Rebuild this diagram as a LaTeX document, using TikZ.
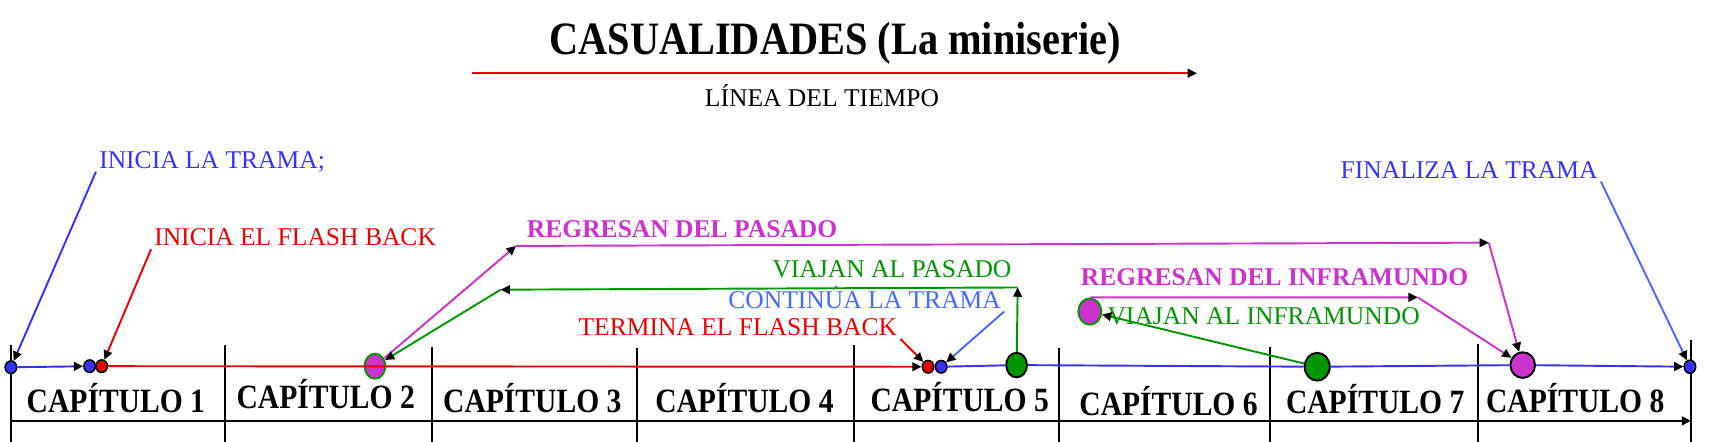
\documentclass[tikz,border=0pt]{standalone}
\usepackage{fontspec}
\setmainfont{Liberation Serif}
\usetikzlibrary{arrows.meta,shapes.geometric}
\definecolor{trama}{RGB}{51,51,255}
\definecolor{tramaline}{RGB}{70,105,255}
\definecolor{flash}{RGB}{235,0,0}
\definecolor{pasado}{RGB}{204,51,204}
\definecolor{viaje}{RGB}{0,150,0}
\newcommand\tall[1]{\scalebox{1}[1.15]{#1}}
\tikzset{
  >={Triangle[color=black,length=1.7mm,width=1.6mm]},
  link/.style={->,line width=1pt,draw=#1},
  link/.default=black,
  rule/.style={line width=1.1pt,draw=black},
  tag/.style={text=#1,font=\fontsize{13.3pt}{16pt}\selectfont,inner sep=1.5pt,
    text height=1.5ex,text depth=0pt},
  tag/.default=black,
  btag/.style={tag=#1,font=\fontsize{13.3pt}{16pt}\selectfont\bfseries},
  heading/.style={font=\fontsize{21pt}{25pt}\selectfont\bfseries,anchor=base,inner sep=0pt},
  chap/.style={font=\fontsize{15.4pt}{18pt}\selectfont\bfseries,anchor=base,inner sep=0pt},
  beat/.style={ellipse,draw=black,line width=0.8pt,fill=#1,minimum width=2.1mm,
    minimum height=2.3mm,inner sep=0pt},
  event/.style={ellipse,draw=#1,line width=1pt,minimum width=4.2mm,
    minimum height=4.8mm,inner sep=0pt},
}

\begin{document}
\begin{tikzpicture}[x=0.02cm,y=-0.02cm]
  \useasboundingbox (0,0) rectangle (1568,404);
  % title
  \node[heading] (titulo) at (764,50) {\tall{CASUALIDADES (La miniserie)}};
  \coordinate (tiempoA) at (432,67);
  \coordinate (tiempoB) at (1095,67);
  \draw[link=flash] (tiempoA) -- (tiempoB);
  \node[tag] (tiempo) at (752,91) {LÍNEA DEL TIEMPO};

  % chapter table
  \foreach \x/\t in {10/316,206/316,395/317,583/318,781/316,969/318,1162/317,1352/315,1547/311}
    \draw[rule] (\x,\t) -- (\x,404);
  \draw[rule,->] (10,385) -- (1547,385);
  \foreach \n/\x/\y in {1/106/377,2/298/374,3/487/377,4/681/377,
                        5/878/376,6/1069/380,7/1258/378,8/1441/377}
    \node[chap] (cap\n) at (\x,\y) {\tall{CAPÍTULO \n}};

  % events on the time line
  \node[beat=trama] (inicio) at (10,336) {};
  \node[beat=trama] (trama1) at (82,335) {};
  \node[beat=flash] (flash1) at (93,335) {};
  \node[event=viaje,fill=pasado,minimum width=3.8mm,minimum height=4.6mm] (reg2) at (343,335) {};
  \node[beat=flash] (flash2) at (849,335.5) {};
  \node[beat=trama] (trama2) at (861,335.5) {};
  \node[event=black,fill=viaje,minimum width=3.8mm,minimum height=4.5mm] (viaje5) at (930,334) {};
  \node[event=viaje,fill=pasado] (infra) at (997,285) {};
  \node[event=black,fill=viaje,minimum width=4.6mm,minimum height=5.1mm] (viaje7) at (1205,335.5) {};
  \node[event=black,fill=pasado,minimum width=4.5mm,minimum height=4.7mm] (reg8) at (1393,334) {};
  \node[beat=trama,minimum height=2.4mm] (fin) at (1546,335.5) {};

  \draw[link=trama] (inicio) -- (trama1);
  \draw[link=flash] (flash1) -- (flash2);
  \draw[line width=1pt,trama] (trama2) -- (viaje5) -- (viaje7) -- (reg8);
  \draw[link=trama] (reg8) -- (fin);

  % labels
  \node[tag=trama] (iniTrama) at (194,148) {INICIA LA TRAMA;};
  \node[tag=flash] (iniFlash) at (270,219) {INICIA EL FLASH BACK};
  \node[btag=pasado] (regPasado) at (624,211) {REGRESAN DEL PASADO};
  \node[tag=viaje] (viaPasado) at (816,248) {VIAJAN AL PASADO};
  \node[tag=tramaline] (continua) at (791,276) {CONTINÚA LA TRAMA};
  \node[tag=flash] (termina) at (675,301) {TERMINA EL FLASH BACK};
  \node[btag=pasado] (regInfra) at (1166,255) {REGRESAN DEL INFRAMUNDO};
  \node[tag=viaje] (viaInfra) at (1156,291) {VIAJAN AL INFRAMUNDO};
  \node[tag=trama] (finaliza) at (1344,157) {FINALIZA LA TRAMA};

  \draw[link=trama] (iniTrama.south west) -- (inicio);
  \draw[link=flash] (iniFlash.south west) -- (flash1);
  \draw[link=flash] (termina.south east) -- (flash2);
  \draw[link=tramaline] (continua.south east) -- (trama2);
  \draw[link=tramaline] (finaliza.south east) -- (fin);

  % back to the past and forth
  \coordinate (pasadoA) at (472,225);
  \coordinate (pasadoB) at (1362,222);
  \draw[link=pasado] (reg2) -- (pasadoA);
  \draw[link=pasado] (pasadoA) -- (pasadoB);
  \draw[link=pasado] (pasadoB) -- (reg8);
  \coordinate (viajeA) at (931,263);
  \coordinate (viajeB) at (458,265);
  \draw[link=viaje] (viaje5) -- (viajeA);
  \draw[link=viaje] (viajeA) -- (viajeB);
  \draw[link=viaje] (viajeB) -- (reg2);

  % underworld
  \coordinate (infraA) at (1297,272);
  \draw[link=pasado] (infra.north) -- (infraA);
  \draw[link=pasado] (infraA) -- (reg8);
  \draw[link=viaje] (viaje7) -- (infra);
\end{tikzpicture}
\end{document}
